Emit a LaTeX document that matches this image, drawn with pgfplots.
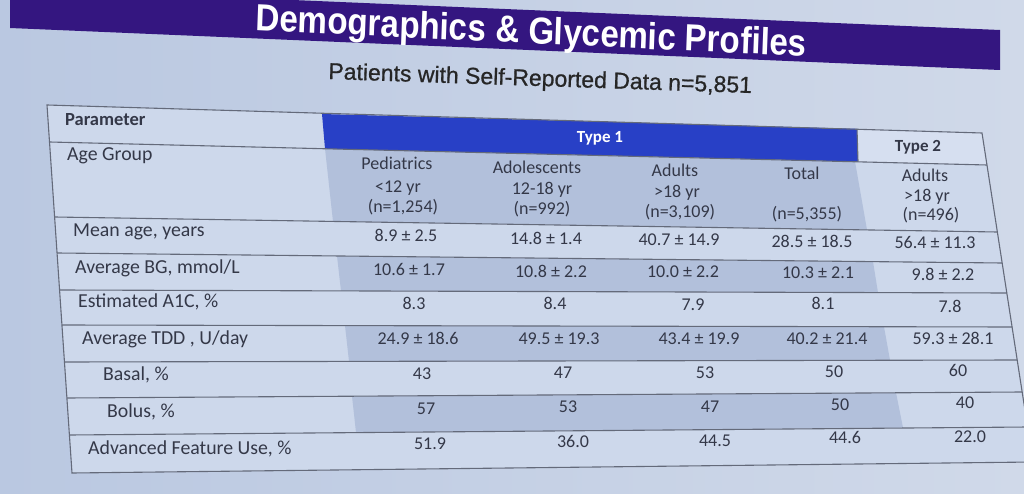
\documentclass[border=0pt]{standalone}
\usepackage{pgfplots}
\pgfplotsset{compat=1.18}
\usepackage{fontspec}
\setmainfont{Carlito}
\newfontfamily\arialf{Liberation Sans}
\newfontfamily\subf[FakeBold=0.8]{Liberation Sans}
\definecolor{slideL}{RGB}{186,200,225}
\definecolor{slideR}{RGB}{208,217,233}
\definecolor{tbl}{RGB}{205,216,235}
\definecolor{tblT}{RGB}{214,223,240}
\definecolor{dark}{RGB}{178,192,219}
\definecolor{blueh}{RGB}{40,64,198}
\definecolor{purp}{RGB}{52,22,128}
\definecolor{tline}{RGB}{100,106,122}
\definecolor{txt}{RGB}{52,56,72}
\begin{document}
\begin{tikzpicture}[
  lab/.style={font=\fontsize{19.8}{21}\selectfont,text=txt,anchor=west,inner sep=0pt,text height=0.7em,text depth=0.2em},
  val/.style={font=\fontsize{18}{19}\selectfont,text=txt,anchor=center,inner sep=0pt,text height=0.7em,text depth=0.2em},
  hd/.style={font=\bfseries\fontsize{17}{18}\selectfont,text=txt,anchor=center,inner sep=0pt,text height=0.7em,text depth=0.2em}]
\begin{axis}[x=1pt,y=1pt,xmin=0,xmax=1024,ymin=0,ymax=494,y dir=reverse,
  hide axis,clip=true]
% slide background
\shade[left color=slideL,right color=slideR] (0,0) rectangle (1024,494);
% title band
\fill[purp] (10,-12) -- (1000,30) -- (1000,70) -- (10,28) -- cycle;
\node[font=\arialf\bfseries\fontsize{37.7}{40}\selectfont,text=white,anchor=base,xscale=0.88,rotate=-2.4,inner sep=0pt] at (531,43.5) {Demographics \& Glycemic Profiles};
\node[font=\subf\fontsize{23}{25}\selectfont,text=black!85,anchor=base,rotate=-1.9,inner sep=0pt] at (540,86) {Patients with Self-Reported Data n=5,851};
% table body
\fill[tbl] (47,105) -- (982,133) -- (1033,462) -- (72,473) -- cycle;
% shaded rows (Type 1 columns)
\fill[dark] (325,148.7) -- (855,161.5) -- (867,229.9) -- (333,221.5) -- cycle;
\fill[dark] (337,256) -- (873,261.6) -- (878,292.7) -- (341,290.9) -- cycle;
\fill[dark] (345,325.6) -- (884,326.8) -- (890,360.2) -- (349,361.4) -- cycle;
\fill[dark] (352,396.1) -- (896,392.7) -- (903,427.8) -- (356,432.4) -- cycle;
% Type 2 header cell
\fill[tblT] (857,128.8) -- (982,133) -- (987,165) -- (858,161.6) -- cycle;
% blue Type 1 header
\fill[blueh] (322,114) -- (857,128.8) -- (858,161.6) -- (325,148.7) -- cycle;
% lines
\draw[tline,line width=1.1pt] (47,105) -- (982,133) -- (1033,462) -- (72,473) -- cycle;
\draw[tline,line width=1.1pt] (49.5,142) -- (987,165);
\draw[tline,line width=1.1pt] (54.6,217) -- (997.3,232);
\draw[tline,line width=1.1pt] (57.1,253) -- (1002.2,263);
\draw[tline,line width=1.1pt] (59.6,290) -- (1006.8,293);
\draw[tline,line width=1.1pt] (62,325) -- (1012.1,327);
\draw[tline,line width=1.1pt] (64.5,362) -- (1017.2,360);
\draw[tline,line width=1.1pt] (66.9,398) -- (1022.1,392);
\draw[tline,line width=1.1pt] (69.4,435) -- (1027.6,427);
\draw[tline,line width=1.1pt] (857,128.8) -- (858,161.6);
% header texts
\node[hd,anchor=west,font=\bfseries\fontsize{18.5}{19}\selectfont] at (65,123) {Parameter};
\node[hd,text=white] at (600,140) {Type 1};
\node[hd] at (918,149) {Type 2};
\node[lab] at (67,158) {Age Group};
\node[val] at (397,167) {Pediatrics};
\node[val] at (398,190) {<12 yr};
\node[val] at (403,210) {(n=1,254)};
\node[val] at (537,171) {Adolescents};
\node[val] at (542,192) {12-18 yr};
\node[val] at (542,212) {(n=992)};
\node[val] at (675,174) {Adults};
\node[val] at (677,195) {>18 yr};
\node[val] at (680,215) {(n=3,109)};
\node[val] at (802,177) {Total};
\node[val] at (807,217) {(n=5,355)};
\node[val] at (925,179) {Adults};
\node[val] at (927,199) {>18 yr};
\node[val] at (931,218) {(n=496)};
% row labels
\node[lab] at (73,234) {Mean age, years};
\node[lab] at (75,271) {Average BG, mmol/L};
\node[lab] at (78,305) {Estimated A1C, \%};
\node[lab] at (82,342) {Average TDD , U/day};
\node[lab] at (103,378) {Basal, \%};
\node[lab] at (107,415) {Bolus, \%};
\node[lab] at (88,452) {Advanced Feature Use, \%};
% values
\node[val] at (406,239) {8.9 ± 2.5};
\node[val] at (546,242) {14.8 ± 1.4};
\node[val] at (679,243) {40.7 ± 14.9};
\node[val] at (812,245) {28.5 ± 18.5};
\node[val] at (935,246) {56.4 ± 11.3};
\node[val] at (409,273) {10.6 ± 1.7};
\node[val] at (551,275) {10.8 ± 2.2};
\node[val] at (683,275) {10.0 ± 2.2};
\node[val] at (818,276) {10.3 ± 2.1};
\node[val] at (943,278) {9.8 ± 2.2};
\node[val] at (414,307) {8.3};
\node[val] at (555,307) {8.4};
\node[val] at (693,308) {7.9};
\node[val] at (823,307) {8.1};
\node[val] at (950,310) {7.8};
\node[val] at (418,342) {24.9 ± 18.6};
\node[val] at (559,342) {49.5 ± 19.3};
\node[val] at (699,342) {43.4 ± 19.9};
\node[val] at (827,342) {40.2 ± 21.4};
\node[val] at (953,342) {59.3 ± 28.1};
\node[val] at (422,377) {43};
\node[val] at (563,376) {47};
\node[val] at (705,376) {53};
\node[val] at (834,375) {50};
\node[val] at (958,374) {60};
\node[val] at (426,412) {57};
\node[val] at (568,410) {53};
\node[val] at (710,410) {47};
\node[val] at (840,408) {50};
\node[val] at (965,406) {40};
\node[val] at (430,447) {51.9};
\node[val] at (573,445) {36.0};
\node[val] at (715,444) {44.5};
\node[val] at (845,441) {44.6};
\node[val] at (970,440) {22.0};
\end{axis}
\pgfresetboundingbox
\path[use as bounding box] (current axis.south west) rectangle (current axis.north east);
\end{tikzpicture}
\end{document}
